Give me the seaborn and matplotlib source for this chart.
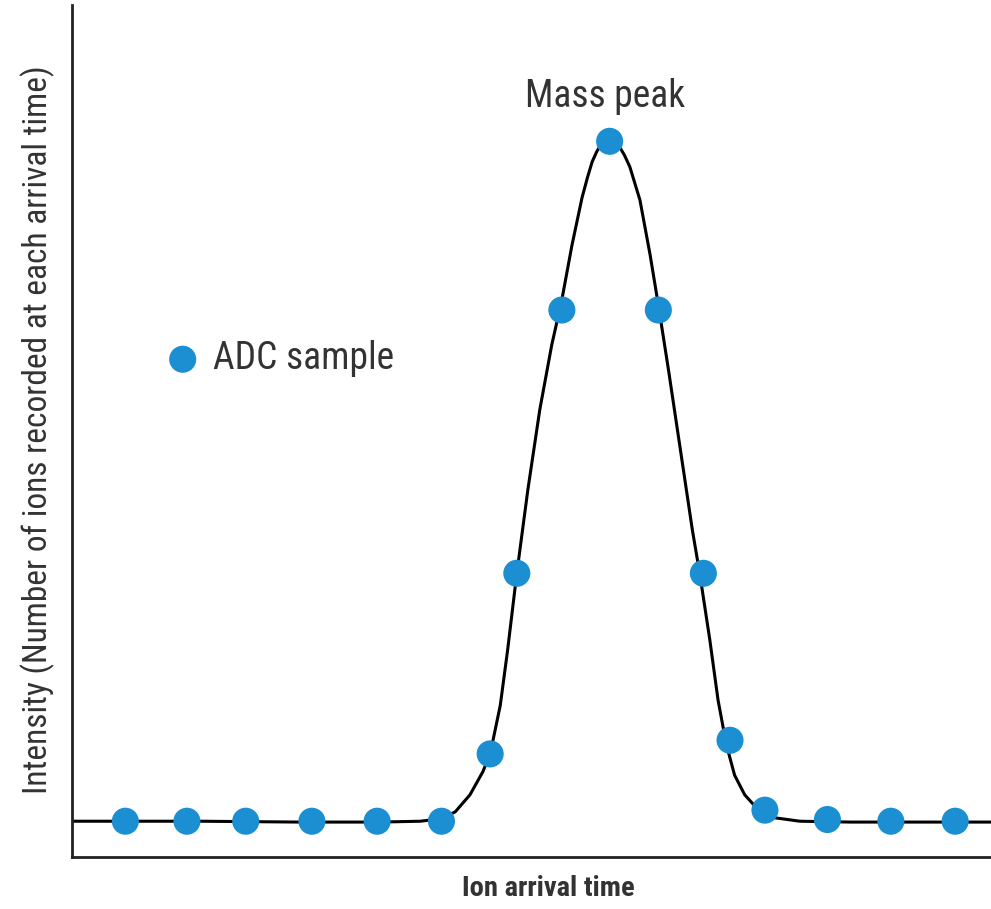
import matplotlib
matplotlib.use("Agg")
import matplotlib.pyplot as plt
import seaborn as sns
import pandas as pd

# ADC samples (arrival time, intensity) in arbitrary units
sample_time = [5.8, 12.5, 18.9, 26.1, 33.2, 40.2, 45.5, 48.4, 53.3, 58.5,
               63.8, 68.7, 71.6, 75.4, 82.2, 89.1, 96.1]
sample_intensity = [4.2, 4.2, 4.2, 4.2, 4.2, 4.2, 12.1, 33.3, 64.2, 84.0,
                    64.2, 33.3, 13.7, 5.5, 4.4, 4.2, 4.2]

# Traced mass-peak profile
profile_time = [0.0, 13.9, 24.8, 33.5, 37.9, 40.2, 41.7, 43.3, 44.7, 45.5,
                46.6, 47.4, 48.4, 49.6, 50.9, 52.2, 53.3, 54.4, 55.5, 56.1,
                56.6, 57.1, 57.5, 58.0, 58.5, 59.0, 59.6, 60.1, 60.7, 61.8,
                62.9, 63.8, 64.9, 66.2, 67.5, 68.3, 69.4, 70.3, 71.2, 72.1,
                73.2, 74.7, 76.5, 79.2, 84.7, 100.0]
profile_intensity = [4.2, 4.2, 4.1, 4.1, 4.2, 4.5, 5.3, 7.3, 10.0, 12.1,
                     17.8, 24.3, 33.3, 43.1, 52.5, 60.1, 65.4, 71.8, 77.4, 79.8,
                     81.6, 82.8, 83.5, 83.8, 83.9, 83.8, 83.3, 82.4, 81.0, 77.1,
                     70.7, 64.8, 57.2, 47.8, 38.4, 33.3, 25.5, 18.4, 13.2, 9.6,
                     7.3, 5.5, 4.6, 4.2, 4.1, 4.1]

samples = pd.DataFrame({"time": sample_time, "intensity": sample_intensity})
profile = pd.DataFrame({"time": profile_time, "intensity": profile_intensity})

sns.set_theme(style="white")
plt.rcParams["font.family"] = ["Roboto Condensed", "Liberation Sans Narrow",
                               "Roboto", "DejaVu Sans"]

BLUE = "#1B8FD2"
TEXT = "#333333"

fig = plt.figure(figsize=(9.91, 9.09), dpi=100)
ax = fig.add_axes([0.0727, 0.0572, 0.9273, 0.9373])

sns.lineplot(data=profile, x="time", y="intensity", ax=ax, color="black",
             linewidth=2.2, sort=False, estimator=None, zorder=2)
sns.scatterplot(data=samples, x="time", y="intensity", ax=ax, color=BLUE,
                s=380, edgecolor="none", zorder=3, label="ADC sample")

ax.set_xlim(0, 100)
ax.set_ylim(0, 100)
ax.set_xticks([])
ax.set_yticks([])
for side in ("top", "right"):
    ax.spines[side].set_visible(False)
for side in ("left", "bottom"):
    ax.spines[side].set_color("#222222")
    ax.spines[side].set_linewidth(2.0)

ax.set_xlabel("")
ax.set_ylabel("Intensity (Number of ions recorded at each arrival time)",
              fontsize=24, color=TEXT)
ax.yaxis.set_label_coords(-0.0185, 0.502)
fig.text(0.553, 0.023, "Ion arrival time", fontsize=20.5, fontweight="bold",
         color=TEXT, ha="center", va="center")

ax.text(58.0, 89.3, "Mass peak", fontsize=27, color=TEXT,
        ha="center", va="center")

leg = ax.legend(loc="center left", bbox_to_anchor=(0.100, 0.585),
                frameon=False, fontsize=27, handlelength=1.0,
                handletextpad=0.3, borderaxespad=0, borderpad=0,
                markerscale=1.0)
for t in leg.get_texts():
    t.set_color(TEXT)

fig.savefig("out.png", dpi=100)
